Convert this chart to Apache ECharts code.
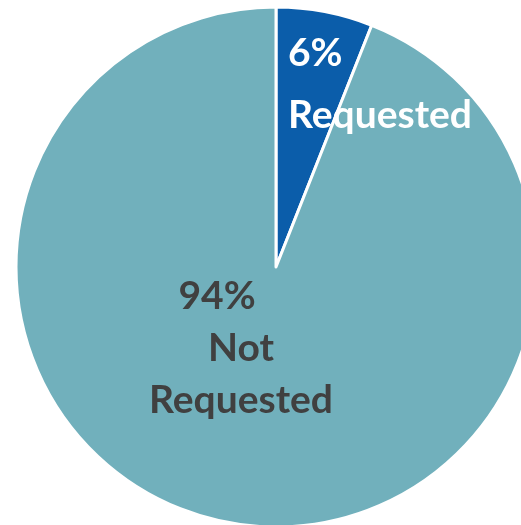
<!DOCTYPE html>
<html>
<head>
<meta charset="utf-8">
<style>
  html, body { margin: 0; padding: 0; background: #ffffff; }
  #chart { width: 521px; height: 525px; }
</style>
<script src="https://cdn.jsdelivr.net/npm/echarts@6/dist/echarts.min.js"></script>
</head>
<body>
<div id="chart"></div>
<script>
// Share of requests
const categories = ['Requested', 'Not Requested'];
const shares = [6, 94];
const sliceColors = ['#0B5DAA', '#71B0BC'];

const chart = echarts.init(document.getElementById('chart'), null, { renderer: 'canvas' });

const FONT = 'Lato, "Open Sans", sans-serif';
const FS = 39;

chart.setOption({
  animation: false,
  backgroundColor: '#ffffff',
  series: [{
    type: 'pie',
    center: [276, 267],
    radius: [0, 260],
    startAngle: 90,
    clockwise: true,
    labelLine: { show: false },
    itemStyle: { borderColor: '#ffffff', borderWidth: 3 },
    data: categories.map((name, i) => ({
      name: name,
      value: shares[i],
      itemStyle: { color: sliceColors[i] },
      label: i === 0 ? {
        show: true,
        position: 'inside',
        formatter: '{v|{d}%}\n{n|Requested}',
        rich: {
          v: { color: '#ffffff', fontFamily: FONT, fontWeight: 'bold', fontSize: FS, lineHeight: 62, align: 'left' },
          n: { color: '#ffffff', fontFamily: FONT, fontWeight: 'bold', fontSize: FS, lineHeight: 62, align: 'left' }
        }
      } : {
        show: true,
        position: 'inside',
        formatter: '{v|{d}%}\n{n|Not}\n{n|Requested}',
        rich: {
          v: { color: '#404040', fontFamily: FONT, fontWeight: 'bold', fontSize: FS, lineHeight: 52, padding: [0, 48, 0, 0] },
          n: { color: '#404040', fontFamily: FONT, fontWeight: 'bold', fontSize: FS, lineHeight: 52 }
        }
      }
    })),
    labelLayout: function (params) {
      if (params.dataIndex === 0) {
        return { x: 288, y: 22, align: 'left', verticalAlign: 'top' };
      }
      return { x: 241, y: 270, align: 'center', verticalAlign: 'top' };
    }
  }]
});
</script>
</body>
</html>
